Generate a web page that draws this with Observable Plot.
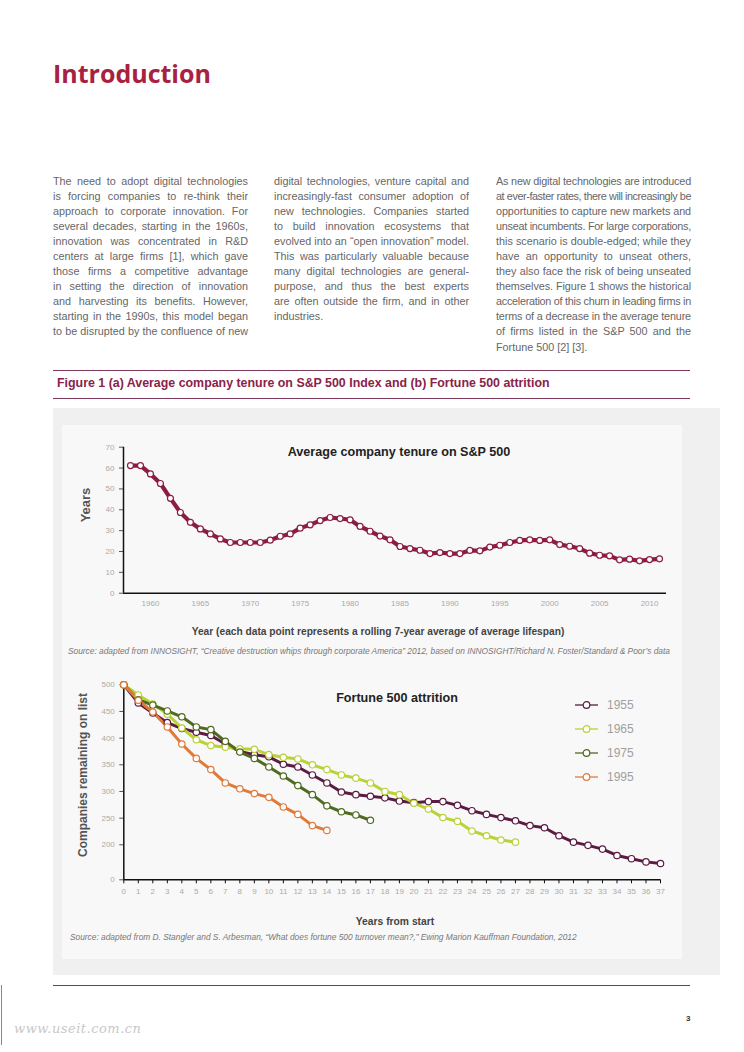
<!DOCTYPE html>
<html><head><meta charset="utf-8">
<script src="https://cdn.jsdelivr.net/npm/d3@7"></script>
<script src="https://cdn.jsdelivr.net/npm/@observablehq/plot@0.6"></script>
<style>
html,body{margin:0;padding:0;background:#fff;}
#page{position:relative;width:744px;height:1052px;overflow:hidden;font-family:"Liberation Sans",Arial,sans-serif;}
.abs{position:absolute;}
.col{position:absolute;top:173.5px;width:195px;font-size:10.8px;line-height:15.1px;color:#666;}
.ln{white-space:nowrap;height:15.1px;}
.rule{position:absolute;left:53px;width:637px;height:1px;background:#7e3a5c;}
.ttl{position:absolute;font-weight:bold;font-size:12.6px;color:#222;white-space:nowrap;transform:translate(-50%,-50%);}
.ylab{position:absolute;font-weight:bold;color:#555;white-space:nowrap;transform:translate(-50%,-50%) rotate(-90deg);}
.xlab{position:absolute;font-weight:bold;color:#444;white-space:nowrap;transform:translate(-50%,-50%);}
.src{position:absolute;font-style:italic;color:#777;white-space:nowrap;font-size:8.35px;transform:translateY(-50%);}
.leg{position:absolute;left:575px;height:14px;display:flex;align-items:center;font-size:12px;color:#a0a0a0;transform:translateY(-50%);}
.leg svg{margin-right:9px;}
</style></head>
<body><div id="page"></div>
<script>
// ---------- data ----------
const spYears = [1958,1959,1960,1961,1962,1963,1964,1965,1966,1967,1968,1969,1970,1971,1972,1973,1974,1975,1976,1977,1978,1979,1980,1981,1982,1983,1984,1985,1986,1987,1988,1989,1990,1991,1992,1993,1994,1995,1996,1997,1998,1999,2000,2001,2002,2003,2004,2005,2006,2007,2008,2009,2010,2011];
const spTenure = [61.2,61.2,57.2,52.6,45.5,38.7,34.0,30.8,28.4,26.0,24.3,24.3,24.3,24.3,25.4,27.3,28.4,31.2,32.8,34.8,36.3,35.8,35.2,32.0,29.7,27.4,25.6,22.4,21.4,20.6,19.0,19.5,19.0,19.0,20.5,20.3,22.1,23.0,24.3,25.3,25.6,25.3,25.6,23.3,22.5,21.4,19.2,18.2,17.9,16.0,16.3,15.5,16.1,16.5];
const spYTicks = [0,10,20,30,40,50,60,70];
const spXTicks = [1960,1965,1970,1975,1980,1985,1990,1995,2000,2005,2010];

const yearsFromStart = [0,1,2,3,4,5,6,7,8,9,10,11,12,13,14,15,16,17,18,19,20,21,22,23,24,25,26,27,28,29,30,31,32,33,34,35,36,37];
const cohorts = ["1955","1965","1975","1995"];
const f1955 = [500,466,447,429,418,411,405,389,375,369,365,351,346,331,316,299,294,291,288,282,279,281,281,274,264,257,251,245,236,232,217,205,199,192,180,174,168,165];
const f1965 = [500,481,464,445,419,397,386,383,380,379,369,364,361,350,341,331,325,316,300,294,278,267,251,244,226,217,209,205];
const f1975 = [500,472,462,451,440,421,416,394,374,362,346,329,311,294,273,262,256,246];
const f1995 = [500,471,449,421,389,362,341,316,305,296,289,271,257,236,227];
const fYTicks = [0,200,250,300,350,400,450,500];
const cohortColors = ["#5b1b42","#b9d236","#4e6b20","#e07a3a"];

const col1 = ["The need to adopt digital technologies","is forcing companies to re-think their","approach to corporate innovation. For","several decades, starting in the 1960s,","innovation was concentrated in R&D","centers at large firms [1], which gave","those firms a competitive advantage","in setting the direction of innovation","and harvesting its benefits. However,","starting in the 1990s, this model began","to be disrupted by the confluence of new"];
const col2 = ["digital technologies, venture capital and","increasingly-fast consumer adoption of","new technologies. Companies started","to build innovation ecosystems that","evolved into an “open innovation” model.","This was particularly valuable because","many digital technologies are general-","purpose, and thus the best experts","are often outside the firm, and in other","industries."];
const col3 = ["As new digital technologies are introduced","at ever-faster rates, there will increasingly be","opportunities to capture new markets and","unseat incumbents. For large corporations,","this scenario is double-edged; while they","have an opportunity to unseat others,","they also face the risk of being unseated","themselves. Figure 1 shows the historical","acceleration of this churn in leading firms in","terms of a decrease in the average tenure","of firms listed in the S&P 500 and the","Fortune 500 [2] [3]."];

// ---------- page ----------
const page = document.getElementById("page");
function add(html){ const d=document.createElement("div"); d.innerHTML=html; while(d.firstChild) page.appendChild(d.firstChild); }

add(`<div class="abs" style="left:53px;top:58px;font-family:'Open Sans',sans-serif;font-weight:700;font-size:25px;color:#a8213f;line-height:30px;">Introduction</div>`);

function makeCol(lines, left, lastJustified){
  const c=document.createElement("div"); c.className="col"; c.style.left=left+"px";
  lines.forEach((t,i)=>{
    const ln=document.createElement("div"); ln.className="ln";
    const sp=document.createElement("span"); sp.textContent=t; ln.appendChild(sp);
    if(i===lines.length-1 && !lastJustified) ln.dataset.last="1";
    c.appendChild(ln);
  });
  page.appendChild(c);
}
makeCol(col1,53,true);
makeCol(col2,274,false);
makeCol(col3,496,false);

add(`<div class="rule" style="top:370px"></div>`);
add(`<div class="abs" style="left:57px;top:383px;transform:translateY(-50%);font-weight:bold;font-size:12.4px;color:#8a2249;white-space:nowrap;">Figure 1 (a) Average company tenure on S&amp;P 500 Index and (b) Fortune 500 attrition</div>`);
add(`<div class="rule" style="top:398px"></div>`);
add(`<div class="abs" style="left:53px;top:408px;width:667px;height:567px;background:#f0f0f0;"></div>`);
add(`<div class="abs" style="left:62px;top:425px;width:620px;height:534px;background:#f8f8f8;"></div>`);
add(`<div class="rule" style="top:985px"></div>`);
add(`<div class="abs" style="left:686px;top:1014px;font-weight:bold;font-size:8px;color:#333;">3</div>`);
add(`<div class="abs" style="left:14px;top:1021px;font-family:'DejaVu Serif',serif;font-style:italic;font-size:13px;color:#c8c8c8;letter-spacing:0.5px;">www.useit.com.cn</div>`);
add(`<div class="abs" style="left:1px;top:985px;width:1px;height:60px;background:#888;"></div>`);

// ---------- chart (a) ----------
const spData = spYears.map((y,i)=>({year:y, tenure:spTenure[i]}));
const xMinA = 1957.3, xMaxA = 2011.7;
const chartA = Plot.plot({
  width:620, height:238,
  marginLeft:61, marginRight:16, marginTop:21.7, marginBottom:70.3,
  style:{background:"transparent", fontFamily:"Liberation Sans, Arial, sans-serif", fontSize:"8px", color:"#aaa", overflow:"visible"},
  x:{domain:[xMinA,xMaxA]},
  y:{domain:[0,70]},
  marks:[
    Plot.axisY({ticks:spYTicks, tickSize:4, tickPadding:5, label:null, stroke:"#555", fill:"#aaa"}),
    Plot.axisX({ticks:spXTicks, tickSize:0, tickPadding:7, label:null, tickFormat:d=>String(d), fill:"#aaa"}),
    Plot.ruleY([0],{x1:xMinA, x2:xMaxA, stroke:"#111", strokeWidth:1.5}),
    Plot.ruleX([xMinA],{y1:0, y2:70, stroke:"#111", strokeWidth:1.5}),
    Plot.line(spData,{x:"year", y:"tenure", stroke:"#8c1d40", strokeWidth:4.2, curve:"linear"}),
    Plot.dot(spData,{x:"year", y:"tenure", r:3, fill:"white", stroke:"#8c1d40", strokeWidth:1.2})
  ]
});
chartA.style.position="absolute"; chartA.style.left="62px"; chartA.style.top="425px";
page.appendChild(chartA);

add(`<div class="ttl" style="left:399px;top:452px;">Average company tenure on S&amp;P 500</div>`);
add(`<div class="ylab" style="left:85px;top:505px;font-size:13px;">Years</div>`);
add(`<div class="xlab" style="left:378px;top:631px;font-size:10.2px;">Year (each data point represents a rolling 7-year average of average lifespan)</div>`);
add(`<div class="src" style="left:68px;top:651px;">Source: adapted from INNOSIGHT, “Creative destruction whips through corporate America” 2012, based on INNOSIGHT/Richard N. Foster/Standard &amp; Poor’s data</div>`);

// ---------- chart (b) ----------
// broken y axis: the stretch 0–140 is squeezed into a few pixels (as in the reference)
const BREAK = 140, BREAK_LOW = 134.4;
const brk = v => v >= BREAK ? v : BREAK_LOW + (v / BREAK) * (BREAK - BREAK_LOW);
const unbrk = t => t >= BREAK ? t : (t - BREAK_LOW) / (BREAK - BREAK_LOW) * BREAK;
const series = [f1955,f1965,f1975,f1995];
const fData = [];
series.forEach((vals,k)=>vals.forEach((v,i)=>fData.push({cohort:cohorts[k], year:yearsFromStart[i], remaining:v})));
const chartB = Plot.plot({
  width:620, height:240,
  marginLeft:61.3, marginRight:22, marginTop:16.3, marginBottom:28.7,
  style:{background:"transparent", fontFamily:"Liberation Sans, Arial, sans-serif", fontSize:"8px", color:"#aaa", overflow:"visible"},
  x:{domain:[0,37]},
  y:{transform:brk, domain:[BREAK_LOW,500]},
  color:{domain:cohorts, range:cohortColors},
  marks:[
    Plot.axisY({ticks:fYTicks.map(brk), tickSize:4, tickPadding:5, label:null, stroke:"#555", fill:"#aaa", tickFormat:t=>String(Math.round(unbrk(t)))}),
    Plot.axisX({ticks:yearsFromStart, tickSize:4, tickPadding:5, label:null, stroke:"#111", fill:"#aaa"}),
    Plot.ruleY([0],{x1:0, x2:37, stroke:"#111", strokeWidth:1.5}),
    Plot.ruleX([0],{y1:0, y2:500, stroke:"#111", strokeWidth:1.5}),
    Plot.line(fData,{x:"year", y:"remaining", z:"cohort", stroke:"cohort", strokeWidth:3}),
    Plot.dot(fData,{x:"year", y:"remaining", stroke:"cohort", r:3.2, fill:"white", strokeWidth:1.2})
  ]
});
chartB.style.position="absolute"; chartB.style.left="62px"; chartB.style.top="668px";
page.appendChild(chartB);

add(`<div class="ttl" style="left:397px;top:698px;">Fortune 500 attrition</div>`);
add(`<div class="ylab" style="left:83px;top:775px;font-size:12px;">Companies remaining on list</div>`);
add(`<div class="xlab" style="left:395px;top:921px;font-size:10.3px;">Years from start</div>`);
add(`<div class="src" style="left:70px;top:937px;">Source: adapted from D. Stangler and S. Arbesman, “What does fortune 500 turnover mean?,” Ewing Marion Kauffman Foundation, 2012</div>`);

const legendY=[705,729,753,777];
cohorts.forEach((c,i)=>{
  add(`<div class="leg" style="top:${legendY[i]}px;"><svg width="23" height="10"><line x1="0" y1="5" x2="23" y2="5" stroke="${cohortColors[i]}" stroke-width="1.3"/><circle cx="11.5" cy="5" r="3.3" fill="#fff" stroke="${cohortColors[i]}" stroke-width="1.2"/></svg>${c}</div>`);
});

// ---------- justify text lines ----------
document.querySelectorAll(".col").forEach(col=>{
  const W=195;
  col.querySelectorAll(".ln").forEach(ln=>{
    if(ln.dataset.last) return;
    const sp=ln.firstChild;
    const w=sp.getBoundingClientRect().width;
    const n=(sp.textContent.match(/ /g)||[]).length;
    if(w<=W){ if(n) sp.style.wordSpacing=((W-w)/n)+"px"; }
    else { sp.style.letterSpacing=((W-w)/sp.textContent.length)+"px"; }
  });
});
</script>
</body></html>
